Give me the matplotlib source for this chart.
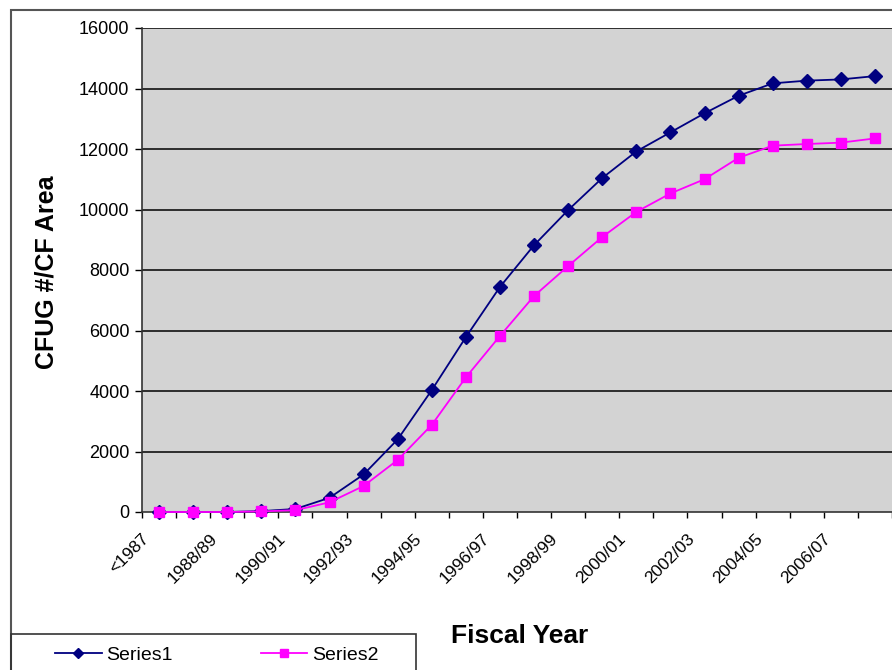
import matplotlib
matplotlib.use("Agg")
import matplotlib.pyplot as plt
from matplotlib.patches import Rectangle
from matplotlib.lines import Line2D
from matplotlib.transforms import ScaledTranslation

plt.rcParams['font.family'] = ['Liberation Sans', 'DejaVu Sans']

categories = ["<1987", "1987/88", "1988/89", "1989/90", "1990/91", "1991/92",
              "1992/93", "1993/94", "1994/95", "1995/96", "1996/97", "1997/98",
              "1998/99", "1999/00", "2000/01", "2001/02", "2002/03", "2003/04",
              "2004/05", "2005/06", "2006/07", "2007/08"]
series1 = [0, 0, 0, 30, 100, 470, 1240, 2400, 4030, 5780, 7440, 8820,
           9980, 11040, 11920, 12550, 13180, 13760, 14170, 14260, 14300, 14410]
series2 = [0, 0, 0, 20, 60, 320, 860, 1720, 2880, 4450, 5820, 7140,
           8130, 9090, 9920, 10530, 11000, 11710, 12110, 12165, 12210, 12350]
yticks = [0, 2000, 4000, 6000, 8000, 10000, 12000, 14000, 16000]

W, H = 892, 670
fig = plt.figure(figsize=(W / 100, H / 100), dpi=100)
fig.patch.set_facecolor('white')

def fx(px):
    return px / W

def fy(py):
    return 1 - py / H

left, top, bottom = 142, 28, 512
ax = fig.add_axes([fx(left), fy(bottom), 1 - fx(left), fy(top) - fy(bottom)])
ax.set_facecolor('#d3d3d3')

x = list(range(len(categories)))
ax.plot(x, series1, color='#000080', marker='D', markersize=7, linewidth=1.3,
        label='Series1', clip_on=False, zorder=3)
ax.plot(x, series2, color='#ff00ff', marker='s', markersize=6.5, linewidth=1.3,
        label='Series2', clip_on=False, zorder=3)

ax.set_xlim(-0.5, 21.21)
ax.set_ylim(0, 16000)
ax.set_yticks(yticks)
ax.set_yticklabels([str(v) for v in yticks], fontsize=13)
for v in yticks[1:]:
    ax.axhline(v, color='black', linewidth=1.1, zorder=1)

# category labels (every other category), rotated like the original
ax.set_xticks([])
ax.set_xticks([i - 0.5 for i in range(len(categories) + 1)], minor=True)
ax.tick_params(axis='x', which='minor', length=4, width=1, direction='out')
lab_tr = ax.get_xaxis_transform() + ScaledTranslation(-18 / 100, -19 / 100,
                                                       fig.dpi_scale_trans)
for i in x[::2]:
    ax.text(i, 0, categories[i], transform=lab_tr, rotation=45, ha='right',
            va='top', rotation_mode='anchor', fontsize=12.5, clip_on=False)

ax.tick_params(axis='y', length=5, width=1, direction='out', pad=4)

for s in ['top', 'right']:
    ax.spines[s].set_visible(False)
ax.spines['left'].set_color('#333333')
ax.spines['bottom'].set_color('#333333')
ax.spines['left'].set_linewidth(1.2)
ax.spines['bottom'].set_linewidth(1.2)

fig.text(fx(47), fy(272), 'CFUG #/CF Area', fontsize=18, fontweight='bold',
         rotation=90, ha='center', va='center')
fig.text(fx(520), fy(636), 'Fiscal Year', fontsize=19, fontweight='bold',
         ha='center', va='center')

# outer chart frame
fig.patches.append(Rectangle((fx(11), fy(700)), fx(920) - fx(11), fy(10) - fy(700),
                             transform=fig.transFigure, fill=False,
                             edgecolor='#555555', linewidth=1.5))
# legend frame
fig.patches.append(Rectangle((fx(11), fy(700)), fx(416) - fx(11), fy(634) - fy(700),
                             transform=fig.transFigure, fill=False,
                             edgecolor='#333333', linewidth=1.2))
handles = [Line2D([], [], color='#000080', marker='D', markersize=5.5, linewidth=1.3),
           Line2D([], [], color='#ff00ff', marker='s', markersize=5.5, linewidth=1.3)]
fig.legend(handles, ['Series1', 'Series2'], loc='center left',
           bbox_to_anchor=(fx(55), fy(655)), ncol=2, frameon=False, fontsize=14,
           borderpad=0, borderaxespad=0, handlelength=2.4, handletextpad=0.25,
           columnspacing=4.5)

fig.savefig('out.png', dpi=100)
